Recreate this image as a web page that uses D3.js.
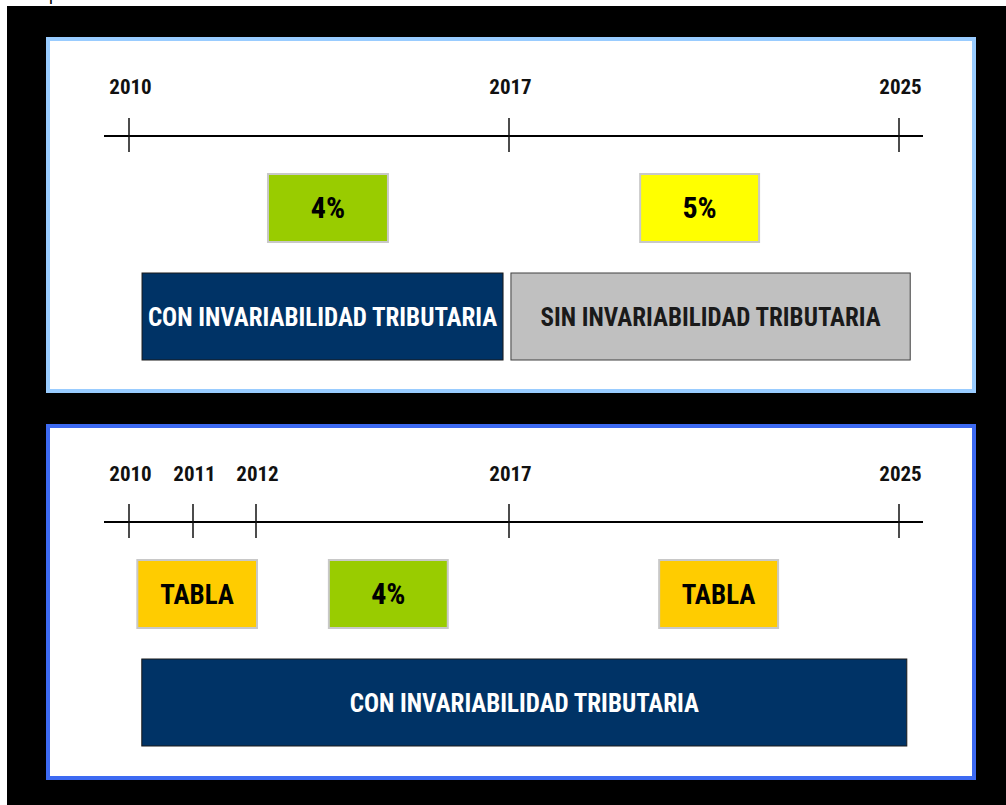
<!DOCTYPE html>
<html><head><meta charset="utf-8">
<script src="https://cdn.jsdelivr.net/npm/d3@7"></script>
<style>html,body{margin:0;padding:0;background:#fff;}svg{display:block;}</style>
</head><body>
<script>
// ---- data ----
const topYears = [2010, 2017, 2025];
const bottomYears = [2010, 2011, 2012, 2017, 2025];
// rate/regime boxes: [label, startYear, endYear, kind]
const topRateLabels = ["4%", "5%"];
const topRateStart = [2012.56, 2019.69];
const topRateEnd = [2014.77, 2022.13];
const topRateKind = ["green", "yellow"];
const topRegimeLabels = ["CON INVARIABILIDAD TRIBUTARIA", "SIN INVARIABILIDAD TRIBUTARIA"];
const topRegimeStart = [2010.24, 2017.04];
const topRegimeEnd = [2016.89, 2025.23];
const topRegimeKind = ["navy", "gray"];
const bottomRateLabels = ["TABLA", "4%", "TABLA"];
const bottomRateStart = [2010.13, 2013.44, 2020.08];
const bottomRateEnd = [2012.02, 2015.79, 2022.52];
const bottomRateKind = ["orange", "green", "orange"];
const bottomRegimeLabels = ["CON INVARIABILIDAD TRIBUTARIA"];
const bottomRegimeStart = [2010.2];
const bottomRegimeEnd = [2025.16];
const bottomRegimeKind = ["navy"];

const fills = {green:"#99cc00", yellow:"#ffff00", orange:"#ffcc00", navy:"#003366", gray:"#c0c0c0"};
const strokes = {green:"#c8c8c8", yellow:"#c8c8c8", orange:"#c8c8c8", navy:"#1a1a1a", gray:"#404040"};
const textCol = {green:"#000", yellow:"#000", orange:"#000", navy:"#fff", gray:"#1a1a1a"};

const W = 1006, H = 805;
const FONT = "'Liberation Sans Narrow','Arial Narrow','Roboto Condensed','Liberation Sans',sans-serif";
const svg = d3.select("body").append("svg").attr("width", W).attr("height", H);

svg.append("text").attr("x", 49).attr("y", 0).attr("font-family", FONT).attr("font-size", 18).attr("fill", "#000").text("p");
svg.append("rect").attr("x", 7).attr("y", 6).attr("width", W - 7).attr("height", H - 6).attr("fill", "#000");

function panel(cfg) {
  const g = svg.append("g");
  g.append("rect").attr("x", 48).attr("y", cfg.y0 + 2).attr("width", 926).attr("height", cfg.h - 4)
    .attr("fill", "#fff").attr("stroke", cfg.border).attr("stroke-width", 4);
  const x = d3.scaleLinear().domain(cfg.years).range(cfg.range);
  const axisY = cfg.y0 + cfg.axisOff;
  g.append("line").attr("x1", 104).attr("x2", 923).attr("y1", axisY).attr("y2", axisY)
    .attr("stroke", "#000").attr("stroke-width", 2.2);
  const ax = d3.axisTop(x).tickValues(cfg.years).tickFormat(d3.format("d")).tickSize(0);
  const axg = g.append("g").attr("transform", `translate(0,${cfg.y0 + cfg.labelOff})`).call(ax);
  axg.select(".domain").remove();
  axg.selectAll("text").attr("font-family", FONT).attr("font-weight", "bold").attr("font-size", 21)
    .attr("fill", "#111").attr("dy", 0).attr("dx", 1);
  g.selectAll(".tk").data(cfg.years).join("line").attr("class", "tk")
    .attr("x1", d => x(d)).attr("x2", d => x(d)).attr("y1", axisY - 18).attr("y2", axisY + 16)
    .attr("stroke", "#111").attr("stroke-width", 1.5);

  function boxes(labels, s, e, kind, top, h, fs, bw) {
    const data = labels.map((l, i) => ({l, s: s[i], e: e[i], k: kind[i]}));
    const bg = g.selectAll(null).data(data).join("g");
    bg.append("rect").attr("x", d => x(d.s)).attr("y", top).attr("width", d => x(d.e) - x(d.s)).attr("height", h)
      .attr("fill", d => fills[d.k]).attr("stroke", d => strokes[d.k]).attr("stroke-width", bw);
    bg.append("text").attr("x", d => (x(d.s) + x(d.e)) / 2).attr("y", top + h / 2 + fs * 0.36)
      .attr("text-anchor", "middle").attr("font-family", FONT).attr("font-weight", "bold")
      .attr("font-size", d => d.l.endsWith("%") ? fs + 3 : fs).attr("fill", d => textCol[d.k]).text(d => d.l);
  }
  boxes(cfg.rl, cfg.rs, cfg.re, cfg.rk, cfg.y0 + cfg.rateOff, 68, cfg.rfs, 2);
  boxes(cfg.gl, cfg.gs, cfg.ge, cfg.gk, cfg.y0 + cfg.regOff, 87, 25, 1);
}

panel({y0: 37, h: 356, border: "#99ccff", years: topYears, range: [129, 509, 899],
  axisOff: 99, labelOff: 60,
  rl: topRateLabels, rs: topRateStart, re: topRateEnd, rk: topRateKind, rateOff: 137, rfs: 27,
  gl: topRegimeLabels, gs: topRegimeStart, ge: topRegimeEnd, gk: topRegimeKind, regOff: 236});

panel({y0: 424, h: 356, border: "#3d6af2", years: bottomYears, range: [129, 193, 256, 509, 899],
  axisOff: 98, labelOff: 60,
  rl: bottomRateLabels, rs: bottomRateStart, re: bottomRateEnd, rk: bottomRateKind, rateOff: 136, rfs: 27,
  gl: bottomRegimeLabels, gs: bottomRegimeStart, ge: bottomRegimeEnd, gk: bottomRegimeKind, regOff: 235});
</script>
</body></html>
